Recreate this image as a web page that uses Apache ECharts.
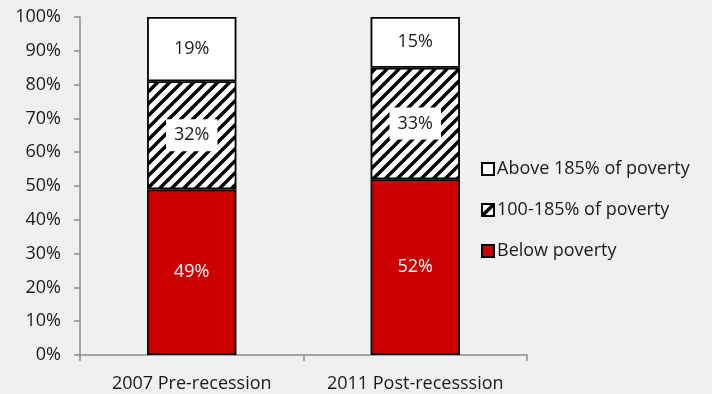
<!DOCTYPE html>
<html>
<head>
<meta charset="utf-8">
<script src="https://cdn.jsdelivr.net/npm/echarts@6/dist/echarts.min.js"></script>
<style>
  html, body { margin: 0; padding: 0; background: #f0f0f0; }
  #chart { width: 712px; height: 394px; }
</style>
</head>
<body>
<div id="chart"></div>
<script>
const categories = ['2007 Pre-recession', '2011 Post-recesssion'];
const belowPoverty = [49, 52];
const nearPoverty = [32, 33];
const abovePoverty = [19, 15];
const seriesNames = ['Below poverty', '100-185% of poverty', 'Above 185% of poverty'];
const yTicks = [0, 10, 20, 30, 40, 50, 60, 70, 80, 90, 100];

// Diagonal black-on-white hatch tile
function hatchCanvas() {
  const s = 12;
  const c = document.createElement('canvas');
  c.width = s; c.height = s;
  const g = c.getContext('2d');
  g.fillStyle = '#ffffff';
  g.fillRect(0, 0, s, s);
  g.strokeStyle = '#000000';
  g.lineWidth = 3.4;
  g.beginPath();
  g.moveTo(-s, s * 2); g.lineTo(s * 2, -s);
  g.moveTo(-s, s); g.lineTo(s, -s);
  g.moveTo(0, s * 2); g.lineTo(s * 2, 0);
  g.stroke();
  return c;
}
const hatch = { image: hatchCanvas(), repeat: 'repeat' };

const font = '"Open Sans", sans-serif';
const chart = echarts.init(document.getElementById('chart'));

const baseLabel = {
  show: true,
  position: 'inside',
  fontFamily: font,
  fontSize: 18,
  formatter: p => p.value + '%'
};

chart.setOption({
  backgroundColor: '#f0f0f0',
  animation: false,
  grid: { left: 80, right: 185, top: 17, bottom: 39 },
  legend: {
    orient: 'vertical',
    left: 476,
    top: 155,
    itemGap: 23,
    itemWidth: 12,
    itemHeight: 12,
    icon: 'rect',
    data: ['Above 185% of poverty', '100-185% of poverty', 'Below poverty'],
    textStyle: { fontFamily: font, fontSize: 18, color: '#1a1a1a', padding: [0, 0, 0, -2] }
  },
  xAxis: {
    type: 'category',
    data: categories,
    axisLine: { lineStyle: { color: '#8c8c8c', width: 1.5 } },
    axisTick: { show: true, length: 6, lineStyle: { color: '#8c8c8c', width: 1.5 } },
    axisLabel: {
      fontFamily: font, fontSize: 18, color: '#1a1a1a', margin: 20,
      interval: 0, hideOverlap: false
    }
  },
  yAxis: {
    type: 'value',
    min: 0,
    max: 100,
    interval: 10,
    splitLine: { show: false },
    axisLine: { show: true, lineStyle: { color: '#8c8c8c', width: 1.5 } },
    axisTick: { show: true, length: 6, lineStyle: { color: '#8c8c8c', width: 1.5 } },
    axisLabel: {
      fontFamily: font, fontSize: 18, color: '#1a1a1a', margin: 19,
      formatter: v => (yTicks.includes(v) ? v + '%' : '')
    }
  },
  series: [
    {
      name: seriesNames[0],
      type: 'bar',
      stack: 'total',
      barWidth: '40%',
      data: belowPoverty,
      itemStyle: { color: '#cc0000', borderColor: '#000', borderWidth: 1.8 },
      label: Object.assign({}, baseLabel, { color: '#ffffff' })
    },
    {
      name: seriesNames[1],
      type: 'bar',
      stack: 'total',
      data: nearPoverty,
      itemStyle: { color: hatch, borderColor: '#000', borderWidth: 1.8 },
      label: Object.assign({}, baseLabel, {
        color: '#1a1a1a',
        backgroundColor: '#ffffff',
        padding: [8, 8, 6, 8]
      })
    },
    {
      name: seriesNames[2],
      type: 'bar',
      stack: 'total',
      data: abovePoverty,
      itemStyle: { color: '#ffffff', borderColor: '#000', borderWidth: 1.8 },
      label: Object.assign({}, baseLabel, { color: '#1a1a1a' })
    }
  ]
});
</script>
</body>
</html>
